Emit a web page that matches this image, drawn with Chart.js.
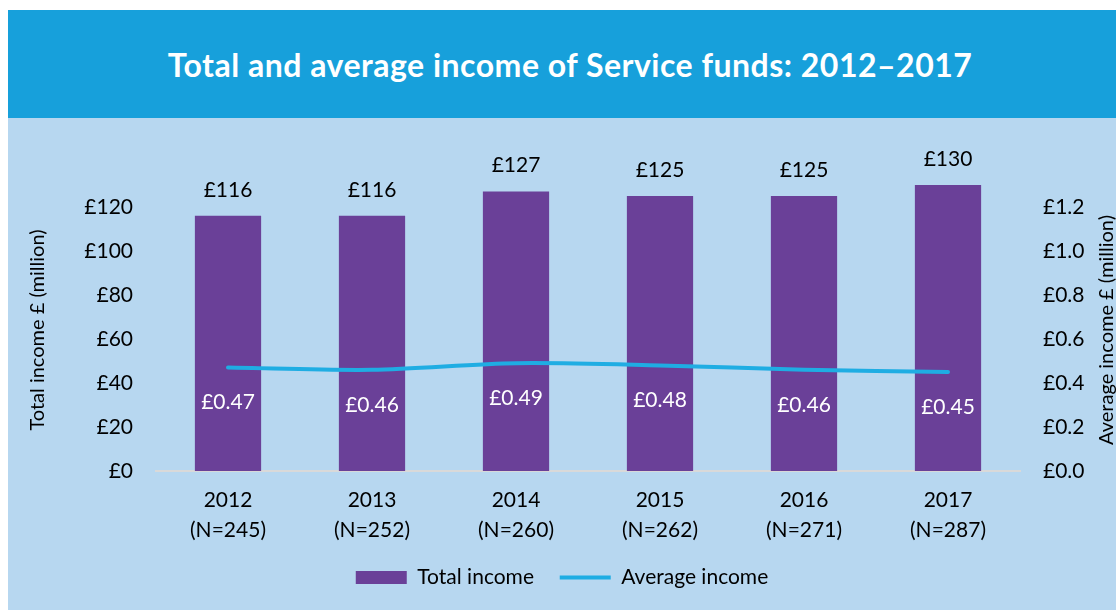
<!DOCTYPE html>
<html>
<head>
<meta charset="utf-8">
<script src="https://cdn.jsdelivr.net/npm/chart.js@4.4.0/dist/chart.umd.min.js"></script>
<style>
  body { margin: 0; background: #fff; width: 1116px; height: 610px; overflow: hidden; position: relative; }
  #header {
    position: absolute; left: 8px; top: 10px; width: 1108px; height: 108px;
    background: #17a0db; color: #fff;
    font: bold 32px Lato, sans-serif; letter-spacing: 0.5px;
    display: flex; align-items: center; justify-content: center;
    padding-left: 16px; box-sizing: border-box;
  }
  #panel { position: absolute; left: 8px; top: 118px; width: 1108px; height: 492px; background: #b7d7f0; }
</style>
</head>
<body>
<div id="header">Total and average income of Service funds: 2012–2017</div>
<div id="panel"><canvas id="myChart" width="1108" height="492"></canvas></div>
<script>
// values
const years = ['2012', '2013', '2014', '2015', '2016', '2017'];
const sampleSizes = [245, 252, 260, 262, 271, 287];
const totalIncome = [116, 116, 127, 125, 125, 130];     // £ million
const averageIncome = [0.47, 0.46, 0.49, 0.48, 0.46, 0.45]; // £ million

const FONT = 'Lato';

// value labels + both axis titles (Excel style, both read bottom-to-top)
const extras = {
  id: 'extras',
  afterDatasetsDraw(chart) {
    let ctx = chart.ctx;
    ctx.save();
    ctx.font = '21px ' + FONT;
    ctx.textAlign = 'center';
    ctx.textBaseline = 'middle';
    ctx.fillStyle = '#000';
    chart.getDatasetMeta(0).data.forEach((bar, i) => {
      ctx.fillText('£' + totalIncome[i], bar.x, bar.y - 26);
    });
    ctx.fillStyle = '#fff';
    chart.getDatasetMeta(1).data.forEach((pt, i) => {
      ctx.fillText('£' + averageIncome[i].toFixed(2), pt.x, pt.y + 35);
    });

    ctx.fillStyle = '#000';
    ctx.font = '20px ' + FONT;
    const midY = 212;
    ctx.translate(30, midY);
    ctx.rotate(-Math.PI / 2);
    ctx.fillText('Total income £ (million)', 0, 0);
    ctx.rotate(Math.PI / 2);
    ctx.translate(1099 - 30, 0);
    ctx.rotate(-Math.PI / 2);
    ctx.fillText('Average income £ (million)', 0, 0);
    ctx.restore();
  }
};

let grapharea = document.getElementById('myChart');
let myChart = new Chart(grapharea, {
  type: 'bar',
  data: {
    labels: years.map((y, i) => [y, `(N=${sampleSizes[i]})`]),
    datasets: [
      {
        label: 'Total income',
        data: totalIncome,
        backgroundColor: '#6a4098',
        borderWidth: 0,
        barPercentage: 0.46,
        categoryPercentage: 1,
        yAxisID: 'y',
        order: 2
      },
      {
        type: 'line',
        label: 'Average income',
        data: averageIncome,
        borderColor: '#1fade3',
        backgroundColor: '#1fade3',
        borderWidth: 4,
        borderCapStyle: 'round',
        pointRadius: 0,
        tension: 0.3,
        yAxisID: 'y1',
        order: 1
      }
    ]
  },
  options: {
    responsive: false,
    animation: false,
    layout: { padding: { top: 45, bottom: 12, left: 0, right: 0 } },
    plugins: {
      tooltip: { enabled: false },
      legend: {
        position: 'bottom',
        labels: {
          usePointStyle: true,
          pointStyleWidth: 51,
          boxHeight: 13,
          padding: 10,
          color: '#000',
          font: { family: FONT, size: 21 },
          generateLabels: (chart) => {
            let items = Chart.defaults.plugins.legend.labels.generateLabels(chart);
            items.sort((a, b) => a.datasetIndex - b.datasetIndex);
            items.forEach(item => {
              if (item.datasetIndex === 0) {
                item.pointStyle = 'rect';
                item.lineWidth = 0;
                item.text = item.text + '\u2003'; // wider gap before the next entry
              } else {
                item.pointStyle = 'line';
                item.lineWidth = 4;
              }
            });
            return items;
          }
        }
      }
    },
    scales: {
      x: {
        grid: { display: false, drawTicks: false },
        border: { color: '#d9d9d9', width: 2 },
        ticks: { color: '#000', padding: 14, font: { family: FONT, size: 21, lineHeight: 1.45 } },
        afterFit: (scale) => { scale.height = 86; }
      },
      y: {
        position: 'left',
        min: 0,
        max: 140,
        grid: { display: false, drawTicks: false },
        border: { display: false },
        ticks: {
          stepSize: 20,
          padding: 23,
          color: '#000',
          font: { family: FONT, size: 21 },
          callback: (v) => v >= 140 ? '' : '£' + v
        },
        afterFit: (scale) => { scale.width = 148; }
      },
      y1: {
        position: 'right',
        min: 0,
        max: 1.4,
        grid: { display: false, drawTicks: false },
        border: { display: false },
        ticks: {
          stepSize: 0.2,
          padding: 23,
          color: '#000',
          font: { family: FONT, size: 21 },
          callback: (v) => v > 1.35 ? '' : '£' + v.toFixed(1)
        },
        afterFit: (scale) => { scale.width = 96; }
      }
    }
  },
  plugins: [extras]
});
</script>
</body>
</html>
